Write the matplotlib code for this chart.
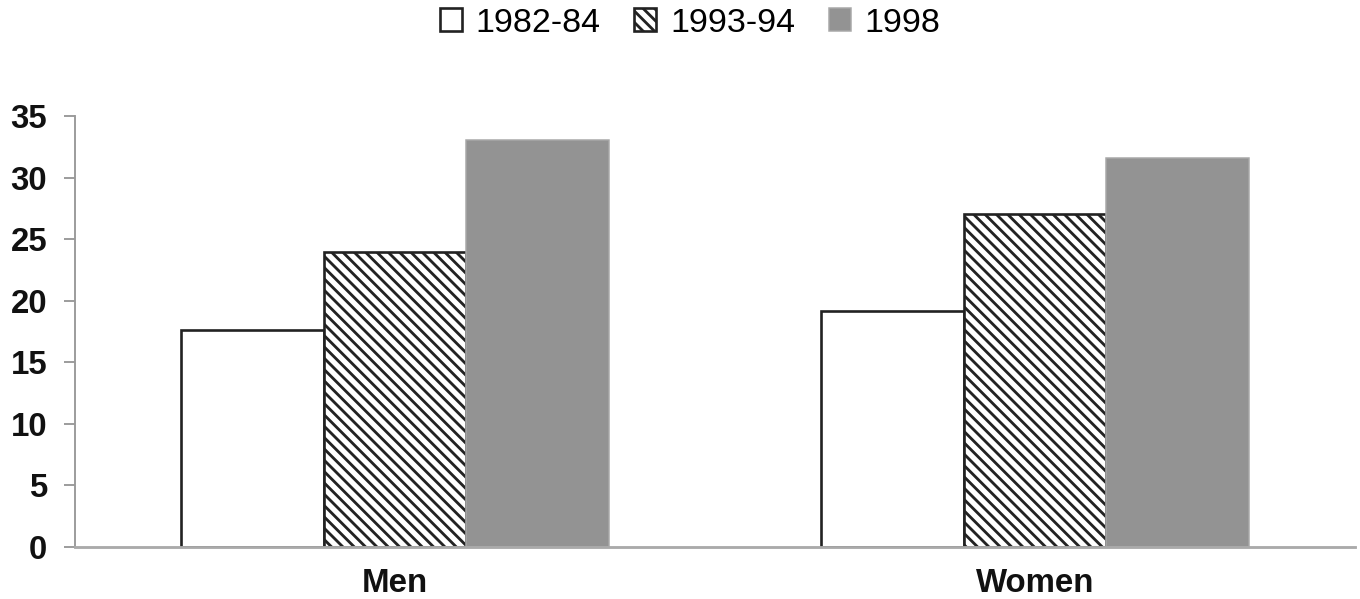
import matplotlib
matplotlib.use("Agg")
import matplotlib.pyplot as plt
import numpy as np

categories = ["Men", "Women"]
series_names = ["1982-84", "1993-94", "1998"]
v_1982_84 = [17.6, 19.2]
v_1993_94 = [24.0, 27.1]
v_1998 = [33.1, 31.6]
yticks = [0, 5, 10, 15, 20, 25, 30, 35]

DPI = 136
plt.rcParams['hatch.linewidth'] = 1.5
plt.rcParams['hatch.color'] = '#333333'

fig = plt.figure(figsize=(1360 / DPI, 599 / DPI), dpi=DPI)
ax = fig.add_axes([75 / 1360, 52 / 599, 1280 / 1360, 430.6 / 599])

x = np.arange(len(categories))
w = 0.2227
b1 = ax.bar(x - w, v_1982_84, w, facecolor='white', edgecolor='#222222', linewidth=1.4, label=series_names[0])
b2 = ax.bar(x, v_1993_94, w, facecolor='white', edgecolor='#222222', linewidth=1.4, hatch='\\\\\\\\', label=series_names[1])
b3 = ax.bar(x + w, v_1998, w, facecolor='#939393', edgecolor='#a8a8a8', linewidth=0.8, label=series_names[2])

ax.set_xlim(-0.5, 1.5)
ax.set_ylim(0, 35)
ax.set_yticks(yticks)
ax.set_xticks(x)
ax.set_xticklabels(categories)

for lbl in ax.get_yticklabels() + ax.get_xticklabels():
    lbl.set_fontfamily(['Liberation Sans', 'DejaVu Sans'])
    lbl.set_fontweight('bold')
    lbl.set_fontsize(17.5)
    lbl.set_color('#111111')

ax.tick_params(axis='y', direction='out', length=5.8, width=1, color='#999999', pad=9)
ax.tick_params(axis='x', length=0, pad=11)

for s in ['top', 'right']:
    ax.spines[s].set_visible(False)
ax.spines['left'].set_color('#999999')
ax.spines['bottom'].set_color('#aaaaaa')
ax.spines['left'].set_linewidth(1)
ax.spines['bottom'].set_linewidth(1.5)

leg = fig.legend(handles=[b1, b2, b3], labels=series_names, loc='center',
                 bbox_to_anchor=(690 / 1360, 1 - 23 / 599), ncol=3, frameon=False,
                 prop=dict(family=['Liberation Sans Narrow', 'Liberation Sans', 'DejaVu Sans'], size=18),
                 handlelength=0.65, handleheight=0.65, handletextpad=0.4, columnspacing=1.0,
                 borderaxespad=0, borderpad=0)

fig.savefig("out.png", dpi=DPI)
